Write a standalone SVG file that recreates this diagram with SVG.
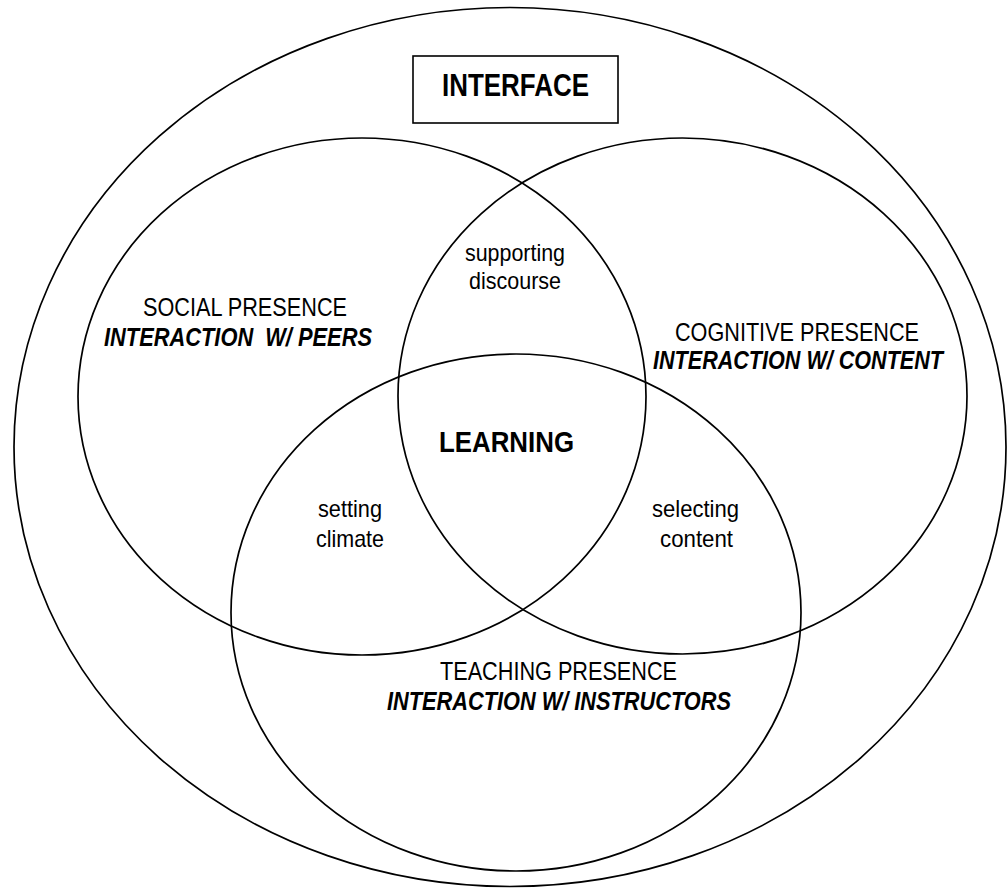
<svg xmlns="http://www.w3.org/2000/svg" width="1008" height="888" viewBox="0 0 1008 888">
<style>
.ring{fill:none;stroke:#000;stroke-width:1.7}
.box{fill:#fff;stroke:#000;stroke-width:1.6}
text{font-family:"Liberation Sans Narrow","Liberation Sans",Arial,sans-serif;fill:#000}
.lbl{font-size:25px}
.sm{font-size:24px}
.bi{font-size:25px;font-weight:bold;font-style:italic}
.big{font-size:31px;font-weight:bold}
</style>
<rect width="1008" height="888" fill="#fff"/>
<g id="connectors"></g>
<g id="interface">
<ellipse class="ring" cx="510" cy="447" rx="496" ry="439.5"/>
<rect class="box" x="413" y="56" width="205" height="67"/>
<text class="big" x="442" y="96" textLength="147" lengthAdjust="spacingAndGlyphs">INTERFACE</text>
</g>
<g id="social">
<ellipse class="ring" cx="362" cy="396.5" rx="284" ry="258.5"/>
<text class="lbl" x="143" y="316" textLength="204" lengthAdjust="spacingAndGlyphs">SOCIAL PRESENCE</text>
<text class="bi" x="104" y="346" textLength="268" lengthAdjust="spacingAndGlyphs" style="white-space:pre">INTERACTION  W/ PEERS</text>
</g>
<g id="cognitive">
<ellipse class="ring" cx="682.5" cy="396" rx="284.5" ry="258"/>
<text class="lbl" x="675" y="341" textLength="244" lengthAdjust="spacingAndGlyphs">COGNITIVE PRESENCE</text>
<text class="bi" x="653" y="369" textLength="290" lengthAdjust="spacingAndGlyphs">INTERACTION W/ CONTENT</text>
</g>
<g id="teaching">
<ellipse class="ring" cx="516" cy="612.5" rx="285" ry="258.5"/>
<text class="lbl" x="440" y="680" textLength="237" lengthAdjust="spacingAndGlyphs">TEACHING PRESENCE</text>
<text class="bi" x="387" y="710" textLength="344" lengthAdjust="spacingAndGlyphs">INTERACTION W/ INSTRUCTORS</text>
</g>
<g id="supporting-discourse">
<text class="sm" x="465" y="261" textLength="100" lengthAdjust="spacingAndGlyphs">supporting</text>
<text class="sm" x="469" y="289" textLength="92" lengthAdjust="spacingAndGlyphs">discourse</text>
</g>
<g id="setting-climate">
<text class="sm" x="318" y="517" textLength="64" lengthAdjust="spacingAndGlyphs">setting</text>
<text class="sm" x="316" y="547" textLength="68" lengthAdjust="spacingAndGlyphs">climate</text>
</g>
<g id="selecting-content">
<text class="sm" x="652" y="517" textLength="87" lengthAdjust="spacingAndGlyphs">selecting</text>
<text class="sm" x="660" y="547" textLength="73" lengthAdjust="spacingAndGlyphs">content</text>
</g>
<g id="learning">
<text class="big" x="439" y="452" textLength="135" lengthAdjust="spacingAndGlyphs" style="font-size:30px">LEARNING</text>
</g>
</svg>
